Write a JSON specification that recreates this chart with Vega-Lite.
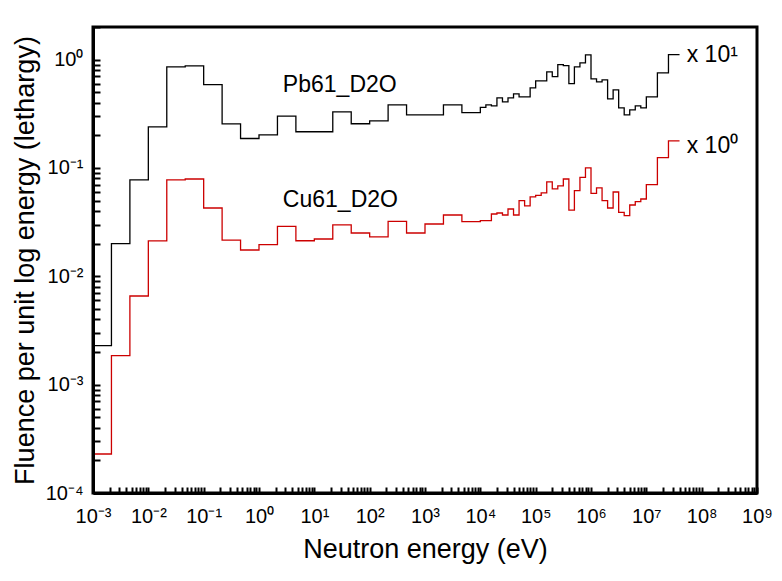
{
  "$schema": "https://vega.github.io/schema/vega-lite/v6.json",
  "width": 664,
  "height": 466,
  "autosize": {"type": "none"},
  "padding": {"left": 93, "top": 27, "right": 25, "bottom": 88},
  "background": "white",
  "config": {"view": {"stroke": "black", "strokeWidth": 3, "fill": null}, "font": "Liberation Sans"},
  "datasets": {
    "spectra": [
      {"series": "Pb61_D2O", "E": 0.001, "F": 0.00229},
      {"series": "Pb61_D2O", "E": 0.0021544, "F": 0.0200},
      {"series": "Pb61_D2O", "E": 0.0046416, "F": 0.0775},
      {"series": "Pb61_D2O", "E": 0.01, "F": 0.239},
      {"series": "Pb61_D2O", "E": 0.021544, "F": 0.856},
      {"series": "Pb61_D2O", "E": 0.046416, "F": 0.875},
      {"series": "Pb61_D2O", "E": 0.1, "F": 0.588},
      {"series": "Pb61_D2O", "E": 0.21544, "F": 0.255},
      {"series": "Pb61_D2O", "E": 0.46416, "F": 0.187},
      {"series": "Pb61_D2O", "E": 1, "F": 0.202},
      {"series": "Pb61_D2O", "E": 2.1544, "F": 0.301},
      {"series": "Pb61_D2O", "E": 4.6416, "F": 0.216},
      {"series": "Pb61_D2O", "E": 10, "F": 0.216},
      {"series": "Pb61_D2O", "E": 21.544, "F": 0.329},
      {"series": "Pb61_D2O", "E": 46.416, "F": 0.256},
      {"series": "Pb61_D2O", "E": 100, "F": 0.272},
      {"series": "Pb61_D2O", "E": 215.44, "F": 0.382},
      {"series": "Pb61_D2O", "E": 464.16, "F": 0.309},
      {"series": "Pb61_D2O", "E": 1000, "F": 0.309},
      {"series": "Pb61_D2O", "E": 2154.4, "F": 0.382},
      {"series": "Pb61_D2O", "E": 4641.6, "F": 0.324},
      {"series": "Pb61_D2O", "E": 10000, "F": 0.363},
      {"series": "Pb61_D2O", "E": 12589, "F": 0.382},
      {"series": "Pb61_D2O", "E": 15849, "F": 0.374},
      {"series": "Pb61_D2O", "E": 19953, "F": 0.443},
      {"series": "Pb61_D2O", "E": 25119, "F": 0.407},
      {"series": "Pb61_D2O", "E": 31623, "F": 0.443},
      {"series": "Pb61_D2O", "E": 39811, "F": 0.482},
      {"series": "Pb61_D2O", "E": 50119, "F": 0.453},
      {"series": "Pb61_D2O", "E": 63096, "F": 0.453},
      {"series": "Pb61_D2O", "E": 79433, "F": 0.548},
      {"series": "Pb61_D2O", "E": 100000, "F": 0.636},
      {"series": "Pb61_D2O", "E": 125893, "F": 0.636},
      {"series": "Pb61_D2O", "E": 158489, "F": 0.770},
      {"series": "Pb61_D2O", "E": 199526, "F": 0.697},
      {"series": "Pb61_D2O", "E": 251189, "F": 0.899},
      {"series": "Pb61_D2O", "E": 316228, "F": 0.880},
      {"series": "Pb61_D2O", "E": 398107, "F": 0.600},
      {"series": "Pb61_D2O", "E": 501187, "F": 0.857},
      {"series": "Pb61_D2O", "E": 630957, "F": 0.932},
      {"series": "Pb61_D2O", "E": 794328, "F": 1.105},
      {"series": "Pb61_D2O", "E": 1000000, "F": 0.663},
      {"series": "Pb61_D2O", "E": 1258925, "F": 0.622},
      {"series": "Pb61_D2O", "E": 1584893, "F": 0.649},
      {"series": "Pb61_D2O", "E": 1995262, "F": 0.434},
      {"series": "Pb61_D2O", "E": 2511886, "F": 0.525},
      {"series": "Pb61_D2O", "E": 3162278, "F": 0.358},
      {"series": "Pb61_D2O", "E": 3981072, "F": 0.309},
      {"series": "Pb61_D2O", "E": 5011872, "F": 0.343},
      {"series": "Pb61_D2O", "E": 6309573, "F": 0.374},
      {"series": "Pb61_D2O", "E": 7943282, "F": 0.358},
      {"series": "Pb61_D2O", "E": 10000000, "F": 0.453},
      {"series": "Pb61_D2O", "E": 15848932, "F": 0.754},
      {"series": "Pb61_D2O", "E": 25118864, "F": 1.112},
      {"series": "Pb61_D2O", "E": 39810717, "F": 1.112},
      {"series": "Cu61_D2O", "E": 0.001, "F": 0.000229},
      {"series": "Cu61_D2O", "E": 0.0021544, "F": 0.00185},
      {"series": "Cu61_D2O", "E": 0.0046416, "F": 0.00658},
      {"series": "Cu61_D2O", "E": 0.01, "F": 0.0212},
      {"series": "Cu61_D2O", "E": 0.021544, "F": 0.0775},
      {"series": "Cu61_D2O", "E": 0.046416, "F": 0.0791},
      {"series": "Cu61_D2O", "E": 0.1, "F": 0.0427},
      {"series": "Cu61_D2O", "E": 0.21544, "F": 0.0216},
      {"series": "Cu61_D2O", "E": 0.46416, "F": 0.0175},
      {"series": "Cu61_D2O", "E": 1, "F": 0.0196},
      {"series": "Cu61_D2O", "E": 2.1544, "F": 0.0289},
      {"series": "Cu61_D2O", "E": 4.6416, "F": 0.0213},
      {"series": "Cu61_D2O", "E": 10, "F": 0.0221},
      {"series": "Cu61_D2O", "E": 21.544, "F": 0.0298},
      {"series": "Cu61_D2O", "E": 46.416, "F": 0.0251},
      {"series": "Cu61_D2O", "E": 100, "F": 0.0231},
      {"series": "Cu61_D2O", "E": 215.44, "F": 0.0321},
      {"series": "Cu61_D2O", "E": 464.16, "F": 0.0251},
      {"series": "Cu61_D2O", "E": 1000, "F": 0.0304},
      {"series": "Cu61_D2O", "E": 2154.4, "F": 0.0368},
      {"series": "Cu61_D2O", "E": 4641.6, "F": 0.0319},
      {"series": "Cu61_D2O", "E": 10000, "F": 0.0326},
      {"series": "Cu61_D2O", "E": 12589, "F": 0.0326},
      {"series": "Cu61_D2O", "E": 15849, "F": 0.0376},
      {"series": "Cu61_D2O", "E": 19953, "F": 0.0384},
      {"series": "Cu61_D2O", "E": 25119, "F": 0.0368},
      {"series": "Cu61_D2O", "E": 31623, "F": 0.0418},
      {"series": "Cu61_D2O", "E": 39811, "F": 0.0368},
      {"series": "Cu61_D2O", "E": 50119, "F": 0.0499},
      {"series": "Cu61_D2O", "E": 63096, "F": 0.0446},
      {"series": "Cu61_D2O", "E": 79433, "F": 0.0540},
      {"series": "Cu61_D2O", "E": 100000, "F": 0.0558},
      {"series": "Cu61_D2O", "E": 125893, "F": 0.0588},
      {"series": "Cu61_D2O", "E": 158489, "F": 0.0743},
      {"series": "Cu61_D2O", "E": 199526, "F": 0.0640},
      {"series": "Cu61_D2O", "E": 251189, "F": 0.0682},
      {"series": "Cu61_D2O", "E": 316228, "F": 0.0791},
      {"series": "Cu61_D2O", "E": 398107, "F": 0.0409},
      {"series": "Cu61_D2O", "E": 501187, "F": 0.0617},
      {"series": "Cu61_D2O", "E": 630957, "F": 0.0819},
      {"series": "Cu61_D2O", "E": 794328, "F": 0.1000},
      {"series": "Cu61_D2O", "E": 1000000, "F": 0.0582},
      {"series": "Cu61_D2O", "E": 1258925, "F": 0.0654},
      {"series": "Cu61_D2O", "E": 1584893, "F": 0.0499},
      {"series": "Cu61_D2O", "E": 1995262, "F": 0.0427},
      {"series": "Cu61_D2O", "E": 2511886, "F": 0.0600},
      {"series": "Cu61_D2O", "E": 3162278, "F": 0.0389},
      {"series": "Cu61_D2O", "E": 3981072, "F": 0.0363},
      {"series": "Cu61_D2O", "E": 5011872, "F": 0.0455},
      {"series": "Cu61_D2O", "E": 6309573, "F": 0.0489},
      {"series": "Cu61_D2O", "E": 7943282, "F": 0.0517},
      {"series": "Cu61_D2O", "E": 10000000, "F": 0.0701},
      {"series": "Cu61_D2O", "E": 15848932, "F": 0.1245},
      {"series": "Cu61_D2O", "E": 25118864, "F": 0.1775},
      {"series": "Cu61_D2O", "E": 39810717, "F": 0.1775}
    ],
    "notes": [
      {"E": 2.7, "F": 0.588, "label": "Pb61_D2O"},
      {"E": 2.7, "F": 0.0501, "label": "Cu61_D2O"},
      {"E": 53700000, "F": 1.112, "label": "x 10¹"},
      {"E": 53700000, "F": 0.1607, "label": "x 10⁰"}
    ]
  },
  "encoding": {
    "x": {
      "field": "E", "type": "quantitative",
      "scale": {"type": "log", "domain": [0.001, 1000000000]},
      "axis": {
        "orient": "bottom",
        "zindex": 1,
        "title": "Neutron energy (eV)",
        "tickCount": 100,
        "labelExpr": "abs(log(datum.value)/LN10 - round(log(datum.value)/LN10)) < 1e-6 ? '10' + replace(replace(replace(replace(replace(replace(replace(replace(replace(replace(replace('' + round(log(datum.value)/LN10), '-', '⁻'), '0', '⁰'), '1', '¹'), '2', '²'), '3', '³'), '4', '⁴'), '5', '⁵'), '6', '⁶'), '7', '⁷'), '8', '⁸'), '9', '⁹') : ''",
        "labelFlush": false,
        "labelOverlap": false,
        "labelFontSize": 20,
        "labelFont": "Liberation Sans",
        "labelColor": "black",
        "labelPadding": 19,
        "tickColor": "black",
        "tickWidth": 2,
        "tickSize": -6,
        "domainColor": "black",
        "domainWidth": 3,
        "grid": false,
        "titleFontSize": 27,
        "titleFont": "Liberation Sans",
        "titleFontWeight": "normal",
        "titleColor": "black",
        "titleY": 56,
        "titleBaseline": "middle"
      }
    },
    "y": {
      "field": "F", "type": "quantitative",
      "scale": {"type": "log", "domain": [0.0001, 2]},
      "axis": {
        "orient": "left",
        "zindex": 1,
        "title": "Fluence per unit log energy (lethargy)",
        "tickCount": 40,
        "labelExpr": "abs(log(datum.value)/LN10 - round(log(datum.value)/LN10)) < 1e-6 ? '10' + replace(replace(replace(replace(replace(replace(replace(replace(replace(replace(replace('' + round(log(datum.value)/LN10), '-', '⁻'), '0', '⁰'), '1', '¹'), '2', '²'), '3', '³'), '4', '⁴'), '5', '⁵'), '6', '⁶'), '7', '⁷'), '8', '⁸'), '9', '⁹') : ''",
        "labelFlush": false,
        "labelOverlap": false,
        "labelFontSize": 20,
        "labelFont": "Liberation Sans",
        "labelColor": "black",
        "labelPadding": 17,
        "tickColor": "black",
        "tickWidth": 2,
        "tickSize": -7,
        "domainColor": "black",
        "domainWidth": 3,
        "grid": false,
        "titleFontSize": 27,
        "titleFont": "Liberation Sans",
        "titleFontWeight": "normal",
        "titleColor": "black",
        "titleX": -68,
        "titleBaseline": "middle"
      }
    }
  },
  "layer": [
    {
      "data": {"name": "spectra"},
      "mark": {"type": "line", "interpolate": "step-after", "strokeWidth": 1.3},
      "encoding": {
        "color": {
          "field": "series", "type": "nominal",
          "scale": {"domain": ["Pb61_D2O", "Cu61_D2O"], "range": ["#000000", "#cc0000"]},
          "legend": null
        }
      }
    },
    {
      "data": {"name": "notes"},
      "mark": {"type": "text", "align": "left", "baseline": "middle", "fontSize": 23, "font": "Liberation Sans", "color": "black"},
      "encoding": {
        "text": {"field": "label", "type": "nominal"}
      }
    }
  ]
}
